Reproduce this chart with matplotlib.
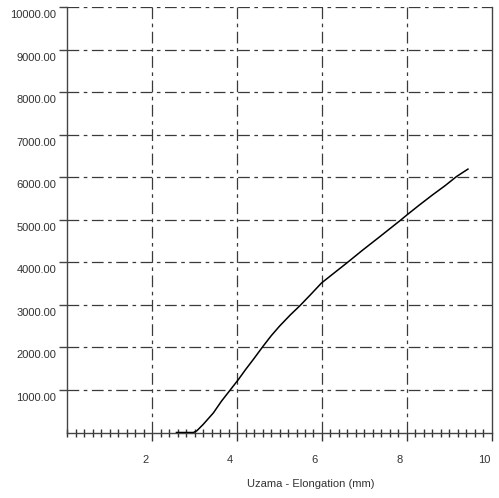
import matplotlib
matplotlib.use("Agg")
import matplotlib.pyplot as plt
import matplotlib.transforms as mtransforms
from matplotlib.ticker import FixedLocator, MultipleLocator

plt.rcParams['font.family'] = ['Liberation Sans', 'DejaVu Sans']

# Elongation (mm) vs Force
elongation = [2.57, 2.97, 3.05, 3.20, 3.44, 3.63, 3.83, 4.03, 4.20, 4.38, 4.61,
              4.80, 5.00, 5.25, 5.48, 5.75, 5.99, 6.30, 6.58, 6.95, 7.36,
              7.84, 8.01, 8.30, 8.60, 8.90, 9.17, 9.44]
force = [0, 0, 40, 190, 460, 735, 990, 1245, 1480, 1715, 2025,
         2270, 2500, 2760, 2980, 3260, 3515, 3760, 3980, 4280, 4600,
         4980, 5120, 5350, 5580, 5800, 6015, 6190]

x_major = [2, 4, 6, 8, 10]
x_labels = ["2", "4", "6", "8", "10"]
y_major = [1000, 2000, 3000, 4000, 5000, 6000, 7000, 8000, 9000, 10000]
y_labels = ["%.2f" % v for v in y_major]

W, H = 499, 498
fig = plt.figure(figsize=(W / 100, H / 100), dpi=100)
ax = fig.add_axes([67.4 / W, 1 - 432.5 / H, (491.7 - 67.4) / W, (432.5 - 7) / H])

gcol = '#3a3a3a'
dash = (9.4, 3.6, 2.9, 3.6)

for xv in x_major[:-1]:
    ax.axvline(xv, color=gcol, lw=0.9, dashes=dash, zorder=1)
for yv in y_major:
    ax.axhline(yv, color=gcol, lw=0.9, dashes=dash, zorder=1)

ax.plot(elongation, force, color='black', lw=1.1, zorder=3)

ax.set_xlim(0, 10)
ax.set_ylim(0, 10000)

for s in ['top']:
    ax.spines[s].set_visible(False)
for s in ['left', 'bottom', 'right']:
    ax.spines[s].set_color('#444444')
    ax.spines[s].set_linewidth(1.0)

ax.xaxis.set_major_locator(FixedLocator(x_major))
ax.set_xticklabels(x_labels)
ax.xaxis.set_minor_locator(MultipleLocator(0.2))
ax.yaxis.set_major_locator(FixedLocator(y_major))
ax.set_yticklabels(y_labels)

ax.tick_params(axis='x', which='major', direction='out', length=6, width=1.0,
               color='#333333', labelsize=8, labelcolor='#333333', pad=10)
ax.tick_params(axis='x', which='minor', direction='inout', length=6, width=1.0,
               color='#333333')
ax.tick_params(axis='y', which='major', direction='out', length=6, width=1.0,
               color='#444444', labelsize=8, labelcolor='#333333', pad=2)

offx = mtransforms.ScaledTranslation(-7 / 100, 0, fig.dpi_scale_trans)
for lab in ax.get_xticklabels():
    lab.set_transform(lab.get_transform() + offx)
offy = mtransforms.ScaledTranslation(0, -7 / 100, fig.dpi_scale_trans)
for lab in ax.get_yticklabels():
    lab.set_transform(lab.get_transform() + offy)

fig.text(311 / W, 1 - 484 / H, "Uzama - Elongation (mm)", ha='center', va='center',
         fontsize=8, color='#333333')

fig.savefig("out.png", dpi=100)
